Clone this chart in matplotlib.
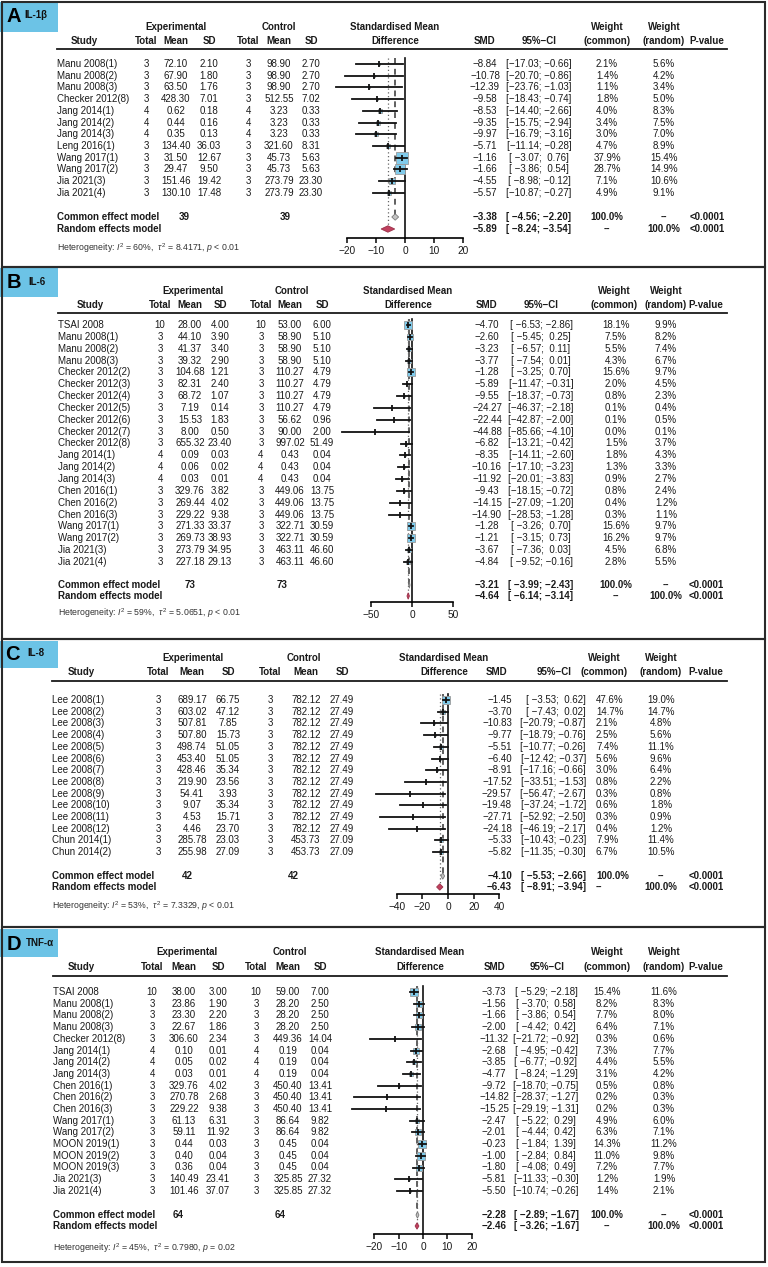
import matplotlib
matplotlib.use("Agg")
import matplotlib.pyplot as plt
from matplotlib.patches import Rectangle, Polygon
import numpy as np

plt.rcParams['font.family'] = ['Liberation Sans', 'DejaVu Sans']
plt.rcParams['mathtext.fontset'] = 'custom'
plt.rcParams['mathtext.rm'] = 'Liberation Sans'
plt.rcParams['mathtext.it'] = 'Liberation Sans:italic'

# ---------------- data: A  IL-1β ----------------
a_study = ["Manu 2008(1)", "Manu 2008(2)", "Manu 2008(3)", "Checker 2012(8)", "Jang 2014(1)",
           "Jang 2014(2)", "Jang 2014(3)", "Leng 2016(1)", "Wang 2017(1)", "Wang 2017(2)",
           "Jia 2021(3)", "Jia 2021(4)"]
a_exp_n = [3, 3, 3, 3, 4, 4, 4, 3, 3, 3, 3, 3]
a_exp_mean = [72.10, 67.90, 63.50, 428.30, 0.62, 0.44, 0.35, 134.40, 31.50, 29.47, 151.46, 130.10]
a_exp_sd = [2.10, 1.80, 1.76, 7.01, 0.18, 0.16, 0.13, 36.03, 12.67, 9.50, 19.42, 17.48]
a_ctl_n = [3, 3, 3, 3, 4, 4, 4, 3, 3, 3, 3, 3]
a_ctl_mean = [98.90, 98.90, 98.90, 512.55, 3.23, 3.23, 3.23, 321.60, 45.73, 45.73, 273.79, 273.79]
a_ctl_sd = [2.70, 2.70, 2.70, 7.02, 0.33, 0.33, 0.33, 8.31, 5.63, 5.63, 23.30, 23.30]
a_smd = [-8.84, -10.78, -12.39, -9.58, -8.53, -9.35, -9.97, -5.71, -1.16, -1.66, -4.55, -5.57]
a_lo = [-17.03, -20.70, -23.76, -18.43, -14.40, -15.75, -16.79, -11.14, -3.07, -3.86, -8.98, -10.87]
a_hi = [-0.66, -0.86, -1.03, -0.74, -2.66, -2.94, -3.16, -0.28, 0.76, 0.54, -0.12, -0.27]
a_wc = [2.1, 1.4, 1.1, 1.8, 4.0, 3.4, 3.0, 4.7, 37.9, 28.7, 7.1, 4.9]
a_wr = [5.6, 4.2, 3.4, 5.0, 8.3, 7.5, 7.0, 8.9, 15.4, 14.9, 10.6, 9.1]
a_common = [-3.38, -4.56, -2.20]
a_random = [-5.89, -8.24, -3.54]
a_total = 39
a_het = ["60%", "8.4171", "< 0.01"]

# ---------------- data: B  IL-6 ----------------
b_study = ["TSAI 2008", "Manu 2008(1)", "Manu 2008(2)", "Manu 2008(3)", "Checker 2012(2)",
           "Checker 2012(3)", "Checker 2012(4)", "Checker 2012(5)", "Checker 2012(6)",
           "Checker 2012(7)", "Checker 2012(8)", "Jang 2014(1)", "Jang 2014(2)", "Jang 2014(3)",
           "Chen 2016(1)", "Chen 2016(2)", "Chen 2016(3)", "Wang 2017(1)", "Wang 2017(2)",
           "Jia 2021(3)", "Jia 2021(4)"]
b_exp_n = [10, 3, 3, 3, 3, 3, 3, 3, 3, 3, 3, 4, 4, 4, 3, 3, 3, 3, 3, 3, 3]
b_exp_mean = [28.00, 44.10, 41.37, 39.32, 104.68, 82.31, 68.72, 7.19, 15.53, 8.00, 655.32,
              0.09, 0.06, 0.03, 329.76, 269.44, 229.22, 271.33, 269.73, 273.79, 227.18]
b_exp_sd = [4.00, 3.90, 3.40, 2.90, 1.21, 2.40, 1.07, 0.14, 1.83, 0.50, 23.40,
            0.03, 0.02, 0.01, 3.82, 4.02, 9.38, 33.37, 38.93, 34.95, 29.13]
b_ctl_n = [10, 3, 3, 3, 3, 3, 3, 3, 3, 3, 3, 4, 4, 4, 3, 3, 3, 3, 3, 3, 3]
b_ctl_mean = [53.00, 58.90, 58.90, 58.90, 110.27, 110.27, 110.27, 110.27, 56.62, 90.00, 997.02,
              0.43, 0.43, 0.43, 449.06, 449.06, 449.06, 322.71, 322.71, 463.11, 463.11]
b_ctl_sd = [6.00, 5.10, 5.10, 5.10, 4.79, 4.79, 4.79, 4.79, 0.96, 2.00, 51.49,
            0.04, 0.04, 0.04, 13.75, 13.75, 13.75, 30.59, 30.59, 46.60, 46.60]
b_smd = [-4.70, -2.60, -3.23, -3.77, -1.28, -5.89, -9.55, -24.27, -22.44, -44.88, -6.82,
         -8.35, -10.16, -11.92, -9.43, -14.15, -14.90, -1.28, -1.21, -3.67, -4.84]
b_lo = [-6.53, -5.45, -6.57, -7.54, -3.25, -11.47, -18.37, -46.37, -42.87, -85.66, -13.21,
        -14.11, -17.10, -20.01, -18.15, -27.09, -28.53, -3.26, -3.15, -7.36, -9.52]
b_hi = [-2.86, 0.25, 0.11, 0.01, 0.70, -0.31, -0.73, -2.18, -2.00, -4.10, -0.42,
        -2.60, -3.23, -3.83, -0.72, -1.20, -1.28, 0.70, 0.73, 0.03, -0.16]
b_wc = [18.1, 7.5, 5.5, 4.3, 15.6, 2.0, 0.8, 0.1, 0.1, 0.0, 1.5, 1.8, 1.3, 0.9, 0.8, 0.4, 0.3,
        15.6, 16.2, 4.5, 2.8]
b_wr = [9.9, 8.2, 7.4, 6.7, 9.7, 4.5, 2.3, 0.4, 0.5, 0.1, 3.7, 4.3, 3.3, 2.7, 2.4, 1.2, 1.1,
        9.7, 9.7, 6.8, 5.5]
b_common = [-3.21, -3.99, -2.43]
b_random = [-4.64, -6.14, -3.14]
b_total = 73
b_het = ["59%", "5.0651", "< 0.01"]

# ---------------- data: C  IL-8 ----------------
c_study = ["Lee 2008(1)", "Lee 2008(2)", "Lee 2008(3)", "Lee 2008(4)", "Lee 2008(5)", "Lee 2008(6)",
           "Lee 2008(7)", "Lee 2008(8)", "Lee 2008(9)", "Lee 2008(10)", "Lee 2008(11)",
           "Lee 2008(12)", "Chun 2014(1)", "Chun 2014(2)"]
c_exp_n = [3] * 14
c_exp_mean = [689.17, 603.02, 507.81, 507.80, 498.74, 453.40, 428.46, 219.90, 54.41, 9.07, 4.53,
              4.46, 285.78, 255.98]
c_exp_sd = [66.75, 47.12, 7.85, 15.73, 51.05, 51.05, 35.34, 23.56, 3.93, 35.34, 15.71, 23.70,
            23.03, 27.09]
c_ctl_n = [3] * 14
c_ctl_mean = [782.12] * 12 + [453.73, 453.73]
c_ctl_sd = [27.49] * 12 + [27.09, 27.09]
c_smd = [-1.45, -3.70, -10.83, -9.77, -5.51, -6.40, -8.91, -17.52, -29.57, -19.48, -27.71,
         -24.18, -5.33, -5.82]
c_lo = [-3.53, -7.43, -20.79, -18.79, -10.77, -12.42, -17.16, -33.51, -56.47, -37.24, -52.92,
        -46.19, -10.43, -11.35]
c_hi = [0.62, 0.02, -0.87, -0.76, -0.26, -0.37, -0.66, -1.53, -2.67, -1.72, -2.50, -2.17,
        -0.23, -0.30]
c_wc = [47.6, 14.7, 2.1, 2.5, 7.4, 5.6, 3.0, 0.8, 0.3, 0.6, 0.3, 0.4, 7.9, 6.7]
c_wr = [19.0, 14.7, 4.8, 5.6, 11.1, 9.6, 6.4, 2.2, 0.8, 1.8, 0.9, 1.2, 11.4, 10.5]
c_common = [-4.10, -5.53, -2.66]
c_random = [-6.43, -8.91, -3.94]
c_total = 42
c_het = ["53%", "7.3329", "< 0.01"]

# ---------------- data: D  TNF-α ----------------
d_study = ["TSAI 2008", "Manu 2008(1)", "Manu 2008(2)", "Manu 2008(3)", "Checker 2012(8)",
           "Jang 2014(1)", "Jang 2014(2)", "Jang 2014(3)", "Chen 2016(1)", "Chen 2016(2)",
           "Chen 2016(3)", "Wang 2017(1)", "Wang 2017(2)", "MOON 2019(1)", "MOON 2019(2)",
           "MOON 2019(3)", "Jia 2021(3)", "Jia 2021(4)"]
d_exp_n = [10, 3, 3, 3, 3, 4, 4, 4, 3, 3, 3, 3, 3, 3, 3, 3, 3, 3]
d_exp_mean = [38.00, 23.86, 23.30, 22.67, 306.60, 0.10, 0.05, 0.03, 329.76, 270.78, 229.22,
              61.13, 59.11, 0.44, 0.40, 0.36, 140.49, 101.46]
d_exp_sd = [3.00, 1.90, 2.20, 1.86, 2.34, 0.01, 0.02, 0.01, 4.02, 2.68, 9.38, 6.31, 11.92,
            0.03, 0.04, 0.04, 23.41, 37.07]
d_ctl_n = [10, 3, 3, 3, 3, 4, 4, 4, 3, 3, 3, 3, 3, 3, 3, 3, 3, 3]
d_ctl_mean = [59.00, 28.20, 28.20, 28.20, 449.36, 0.19, 0.19, 0.19, 450.40, 450.40, 450.40,
              86.64, 86.64, 0.45, 0.45, 0.45, 325.85, 325.85]
d_ctl_sd = [7.00, 2.50, 2.50, 2.50, 14.04, 0.04, 0.04, 0.04, 13.41, 13.41, 13.41, 9.82, 9.82,
            0.04, 0.04, 0.04, 27.32, 27.32]
d_smd = [-3.73, -1.56, -1.66, -2.00, -11.32, -2.68, -3.85, -4.77, -9.72, -14.82, -15.25,
         -2.47, -2.01, -0.23, -1.00, -1.80, -5.81, -5.50]
d_lo = [-5.29, -3.70, -3.86, -4.42, -21.72, -4.95, -6.77, -8.24, -18.70, -28.37, -29.19,
        -5.22, -4.44, -1.84, -2.84, -4.08, -11.33, -10.74]
d_hi = [-2.18, 0.58, 0.54, 0.42, -0.92, -0.42, -0.92, -1.29, -0.75, -1.27, -1.31, 0.29, 0.42,
        1.39, 0.84, 0.49, -0.30, -0.26]
d_wc = [15.4, 8.2, 7.7, 6.4, 0.3, 7.3, 4.4, 3.1, 0.5, 0.2, 0.2, 4.9, 6.3, 14.3, 11.0, 7.2, 1.2, 1.4]
d_wr = [11.6, 8.3, 8.0, 7.1, 0.6, 7.7, 5.5, 4.2, 0.8, 0.3, 0.3, 6.0, 7.1, 11.2, 9.8, 7.7, 1.9, 2.1]
d_common = [-2.28, -2.89, -1.67]
d_random = [-2.46, -3.26, -1.67]
d_total = 64
d_het = ["45%", "0.7980", "= 0.02"]

# ---------------- layout (pixels) ----------------
W, H = 768, 1267
FS = 7.0
BLUE = "#6cc3e6"
BOXC = "#80cbeb"

layouts = [
    dict(letter="A", name="IL-1β", top=2, bottom=267, box=(2, 32), lxy=(13.5, 17), nxy=(24, 15),
         y1=27, y2=41, hline=49, row0=64, dy=11.7, common=217, random=229, axis=238, het=248,
         study_x=57, study_hdr=84, cols=[146, 176, 209, 248, 279, 311], exp_hdr=176, ctl_hdr=279,
         n_x=(184, 285), smd_hdr=395, zero=405, scale=2.9, ticks=[-20, -10, 0, 10, 20], boxmax=12,
         right=[485, 539, 607, 664, 707], right_ha=["center"] * 5,
         right_hdr=[485, 539, 607, 664, 707]),
    dict(letter="B", name="IL-6", top=267, bottom=639, box=(268, 297), lxy=(14, 282), nxy=(28, 282),
         y1=291, y2=305, hline=313, row0=325, dy=11.85, common=585, random=596, axis=602, het=613,
         study_x=58, study_hdr=90, cols=[160, 190, 220, 261, 290, 322], exp_hdr=193, ctl_hdr=292,
         n_x=(190, 282), smd_hdr=408, zero=412, scale=0.82, ticks=[-50, 0, 50], boxmax=8.5,
         right=[487, 541, 616, 666, 706], right_ha=["center"] * 5,
         right_hdr=[487, 541, 614, 666, 706]),
    dict(letter="C", name="IL-8", top=639, bottom=927, box=(641, 668), lxy=(12.5, 654), nxy=(27, 653),
         y1=658, y2=672, hline=681, row0=700, dy=11.7, common=876, random=887, axis=894, het=906,
         study_x=52, study_hdr=81, cols=[158, 192, 228, 270, 306, 342], exp_hdr=193, ctl_hdr=304,
         n_x=(187, 293), smd_hdr=444, zero=448, scale=1.28, ticks=[-40, -20, 0, 20, 40], boxmax=8.5,
         right=[512, 586, 596, 661, 706], right_ha=["right", "right", "left", "center", "center"],
         right_hdr=[497, 554, 604, 661, 706]),
    dict(letter="D", name="TNF-α", top=927, bottom=1262, box=(929, 957), lxy=(14, 945), nxy=(26, 943),
         y1=952, y2=967, hline=976, row0=992, dy=11.7, common=1215, random=1226, axis=1234, het=1248,
         study_x=53, study_hdr=81, cols=[152, 184, 218, 256, 288, 320], exp_hdr=187, ctl_hdr=290,
         n_x=(178, 280), smd_hdr=420, zero=423, scale=2.43, ticks=[-20, -10, 0, 10, 20], boxmax=8.5,
         right=[494, 546, 607, 664, 706], right_ha=["center"] * 5,
         right_hdr=[494, 547, 607, 664, 706]),
]

panels = [
    (a_study, a_exp_n, a_exp_mean, a_exp_sd, a_ctl_n, a_ctl_mean, a_ctl_sd, a_smd, a_lo, a_hi,
     a_wc, a_wr, a_common, a_random, a_total, a_het),
    (b_study, b_exp_n, b_exp_mean, b_exp_sd, b_ctl_n, b_ctl_mean, b_ctl_sd, b_smd, b_lo, b_hi,
     b_wc, b_wr, b_common, b_random, b_total, b_het),
    (c_study, c_exp_n, c_exp_mean, c_exp_sd, c_ctl_n, c_ctl_mean, c_ctl_sd, c_smd, c_lo, c_hi,
     c_wc, c_wr, c_common, c_random, c_total, c_het),
    (d_study, d_exp_n, d_exp_mean, d_exp_sd, d_ctl_n, d_ctl_mean, d_ctl_sd, d_smd, d_lo, d_hi,
     d_wc, d_wr, d_common, d_random, d_total, d_het),
]


def m(s):
    return s.replace("-", "\u2212")


def f2(v):
    return m(f"{v:.2f}")


def ci(lo, hi):
    return m(f"[{lo:6.2f}; {hi:5.2f}]")


fig = plt.figure(figsize=(W / 100, H / 100), dpi=100)
bg = fig.add_axes([0, 0, 1, 1])
bg.set_xlim(0, W)
bg.set_ylim(H, 0)
bg.axis("off")


def txt(x, y, s, ha="center", bold=False, size=FS, color="#1a1a1a"):
    bg.text(x, y, s, ha=ha, va="center", fontsize=size,
            fontweight="bold" if bold else "normal", color=color)


for lay, data in zip(layouts, panels):
    (study, en, em, esd, cn, cm, csd, smd, lo, hi, wc, wr, com, ran, tot, het) = data

    # panel frame and label box
    bg.add_patch(Rectangle((0, lay["box"][0]), 58, lay["box"][1] - lay["box"][0],
                           facecolor=BLUE, edgecolor="none", zorder=1))
    bg.add_patch(Rectangle((2, lay["top"]), 763, lay["bottom"] - lay["top"], fill=False,
                           edgecolor="#2a2a2a", lw=1.5, zorder=2))
    bg.text(lay["lxy"][0], lay["lxy"][1], lay["letter"], ha="center", va="center",
            fontsize=14.5, fontweight="bold", color="black", zorder=3)
    bg.text(lay["nxy"][0], lay["nxy"][1], lay["name"], ha="left", va="center",
            fontsize=7, fontweight="bold", color="#111", zorder=3)

    # headers
    y1, y2 = lay["y1"], lay["y2"]
    txt(lay["exp_hdr"], y1, "Experimental", bold=True)
    txt(lay["ctl_hdr"], y1, "Control", bold=True)
    txt(lay["study_hdr"], y2, "Study", bold=True)
    for x, h in zip(lay["cols"], ["Total", "Mean", "SD", "Total", "Mean", "SD"]):
        txt(x, y2, h, bold=True)
    txt(lay["smd_hdr"], y1, "Standardised Mean", bold=True)
    txt(lay["smd_hdr"], y2, "Difference", bold=True)
    rh = lay["right_hdr"]
    txt(rh[0], y2, "SMD", bold=True)
    txt(rh[1], y2, "95%\u2212CI", bold=True)
    txt(rh[2], y1, "Weight", bold=True)
    txt(rh[2], y2, "(common)", bold=True)
    txt(rh[3], y1, "Weight", bold=True)
    txt(rh[3], y2, "(random)", bold=True)
    txt(rh[4], y2, "P-value", bold=True)
    bg.plot([lay["study_x"], 727], [lay["hline"], lay["hline"]], color="#1a1a1a", lw=1.3)

    # study rows
    ys = lay["row0"] + lay["dy"] * np.arange(len(study))
    rx, rha = lay["right"], lay["right_ha"]
    for i, y in enumerate(ys):
        txt(lay["study_x"], y, study[i], ha="left")
        vals = [str(en[i]), f2(em[i]), f2(esd[i]), str(cn[i]), f2(cm[i]), f2(csd[i])]
        for x, v in zip(lay["cols"], vals):
            txt(x, y, v)
        rvals = [f2(smd[i]), ci(lo[i], hi[i]), f"{wc[i]:.1f}%", f"{wr[i]:.1f}%"]
        for x, ha, v in zip(rx, rha, rvals):
            txt(x, y, v, ha=ha)

    # summary rows
    yc, yr = lay["common"], lay["random"]
    txt(lay["study_x"], yc, "Common effect model", ha="left", bold=True)
    txt(lay["study_x"], yr, "Random effects model", ha="left", bold=True)
    txt(lay["n_x"][0], yc, str(tot), bold=True)
    txt(lay["n_x"][1], yc, str(tot), bold=True)
    for y, est, w1, w2 in [(yc, com, "100.0%", "--"), (yr, ran, "--", "100.0%")]:
        txt(rx[0], y, f2(est[0]), ha=rha[0], bold=True)
        txt(rx[1], y, ci(est[1], est[2]), ha=rha[1], bold=True)
        txt(rx[2], y, w1, ha=rha[2], bold=True)
        txt(rx[3], y, w2, ha=rha[3], bold=True)
        txt(rx[4], y, "<0.0001", ha=rha[4], bold=True)
    bg.text(lay["study_x"], lay["het"],
            r"Heterogeneity: $I^2$ = " + het[0] + r",  $\tau^2$ = " + het[1] + r", $p$ " + het[2],
            ha="left", va="center", fontsize=6.3, color="#333")

    # forest plot axes (y in pixel rows, x in SMD units)
    L, R = 330, 512
    top, bot = lay["hline"], lay["axis"]
    z, s = lay["zero"], lay["scale"]
    ax = fig.add_axes([L / W, 1 - bot / H, (R - L) / W, (bot - top) / H])
    ax.set_xlim((L - z) / s, (R - z) / s)
    ax.set_ylim(bot, top)
    ax.patch.set_visible(False)
    for sp in ["top", "right", "left"]:
        ax.spines[sp].set_visible(False)
    ax.spines["bottom"].set_bounds(lay["ticks"][0], lay["ticks"][-1])
    ax.spines["bottom"].set_linewidth(1.2)
    ax.set_xticks(lay["ticks"])
    ax.set_yticks([])
    ax.tick_params(axis="x", length=3.5, width=1.2, labelsize=7.3, pad=2, colors="#1a1a1a")

    ytop = ys[0] - 6
    ax.plot([0, 0], [ytop, bot], color="#111", lw=1.2, clip_on=False)
    ax.plot([com[0], com[0]], [ytop, yc], color="#444", lw=1.2, ls=(0, (3.5, 3)), clip_on=False)
    ax.plot([ran[0], ran[0]], [ytop, yr], color="#666", lw=0.9, ls=(0, (1, 2)), clip_on=False)

    wmax = max(wc)
    sizes = (lay["boxmax"] * np.sqrt(np.array(wc) / wmax)) * 0.72
    for i, y in enumerate(ys):
        if sizes[i] > 1.0:
            ax.plot(smd[i], y, marker="s", ms=sizes[i], mfc=BOXC, mec="#9a9a9a", mew=0.6,
                    zorder=3, clip_on=False)
        ax.plot([lo[i], hi[i]], [y, y], color="#111", lw=1.3, zorder=4, clip_on=False)
        ax.plot(smd[i], y, marker="|", ms=3.8, mew=1.3, color="#111", zorder=5, clip_on=False)

    for y, est, fc, ec in [(yc, com, "#c4c4c4", "#7a7a7a"), (yr, ran, "#c0405e", "#9a3048")]:
        ax.add_patch(Polygon([(est[1], y), (est[0], y - 3.2), (est[2], y), (est[0], y + 3.2)],
                             closed=True, facecolor=fc, edgecolor=ec, lw=0.6, zorder=5,
                             clip_on=False))

fig.savefig("out.png", dpi=100)
